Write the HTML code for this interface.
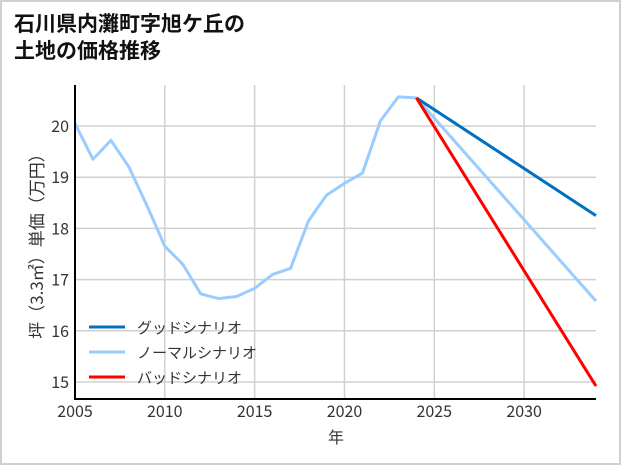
<!DOCTYPE html>
<html><head><meta charset="utf-8"><style>
html,body{margin:0;padding:0;background:#fff;}
svg{display:block;font-family:"Liberation Sans","Noto Sans CJK JP",sans-serif;}
.cjk{font-family:"Noto Sans CJK JP",sans-serif;}
</style></head><body>
<svg id="chart" width="621" height="465">
<rect x="1" y="1" width="619" height="463" fill="#fff" stroke="#d0d0d0" stroke-width="2"/>
<text x="14" y="31" font-size="21" font-weight="bold" fill="#111">石川県内灘町字旭ケ丘の</text>
<text x="14" y="58" font-size="21" font-weight="bold" fill="#111">土地の価格推移</text>
<g id="grid"></g><g id="series"></g><g id="axes"></g><g id="legend"></g>
<text x="336" y="443" font-size="16" fill="#333" text-anchor="middle" class="cjk">年</text>
<text transform="translate(43,242) rotate(-90)" font-size="17" fill="#333" text-anchor="middle" class="cjk">坪（3.3㎡）単価（万円）</text>
</svg>
<script>
const years=[2005,2006,2007,2008,2009,2010,2011,2012,2013,2014,2015,2016,2017,2018,2019,2020,2021,2022,2023,2024];
const actual=[20.05,19.35,19.72,19.2,18.45,17.65,17.3,16.72,16.63,16.67,16.83,17.1,17.22,18.15,18.65,18.88,19.08,20.1,20.57,20.55];
const projYears=[2024,2034];
const good=[20.55,18.25];
const normal=[20.55,16.58];
const bad=[20.55,14.92];
const xTicks=[2005,2010,2015,2020,2025,2030];
const yTicks=[15,16,17,18,19,20];
const NS="http://www.w3.org/2000/svg";
const L=75,R=596,T=85,B=399;
const x=v=>L+(v-2005)*(R-L)/29;
const y=v=>126+(20-v)*51.2;
function mk(tag,attrs,parent){const e=document.createElementNS(NS,tag);for(const k in attrs)e.setAttribute(k,attrs[k]);document.getElementById(parent).appendChild(e);return e;}
xTicks.forEach(t=>{
  const g=mk('line',{x1:x(t),x2:x(t),y1:T,y2:B,stroke:'#d0d0d0','stroke-width':1.5},'grid');
  
  
  const tx=mk('text',{x:x(t),y:B+18,'font-size':16,fill:'#333','text-anchor':'middle',class:'cjk'},'axes');
  tx.textContent=t;
  
  
});
yTicks.forEach(t=>{
  const g=mk('line',{x1:L,x2:R,y1:y(t),y2:y(t),stroke:'#d0d0d0','stroke-width':1.5},'grid');
  
  
  const tx=mk('text',{x:L-6,y:y(t)+6,'font-size':16,fill:'#333','text-anchor':'end',class:'cjk'},'axes');
  tx.textContent=t;
  
  
});
function line(xs,vs,color,name){
  const p=mk('polyline',{points:xs.map((v,i)=>x(v)+','+y(vs[i])).join(' '),fill:'none',stroke:color,'stroke-width':3,'stroke-linejoin':'round'},'series');
  
  
}
line(years,actual,'#99ccff','actual-price-line');
line(projYears,normal,'#99ccff','normal-scenario-line');
line(projYears,good,'#0070c0','good-scenario-line');
line(projYears,bad,'#ff0000','bad-scenario-line');
const ax=mk('polyline',{points:`${L},${T} ${L},${B} ${R},${B}`,fill:'none',stroke:'#000','stroke-width':2},'axes');


const leg=[['グッドシナリオ','#0070c0'],['ノーマルシナリオ','#99ccff'],['バッドシナリオ','#ff0000']];
leg.forEach((d,i)=>{
  const yy=327+i*25;
  const l=mk('line',{x1:89,x2:125,y1:yy,y2:yy,stroke:d[1],'stroke-width':3},'legend');
  
  
  const t=mk('text',{x:137,y:yy+6,'font-size':15,fill:'#333',class:'cjk'},'legend');
  t.textContent=d[0];
  
  
});
</script>
</body></html>
